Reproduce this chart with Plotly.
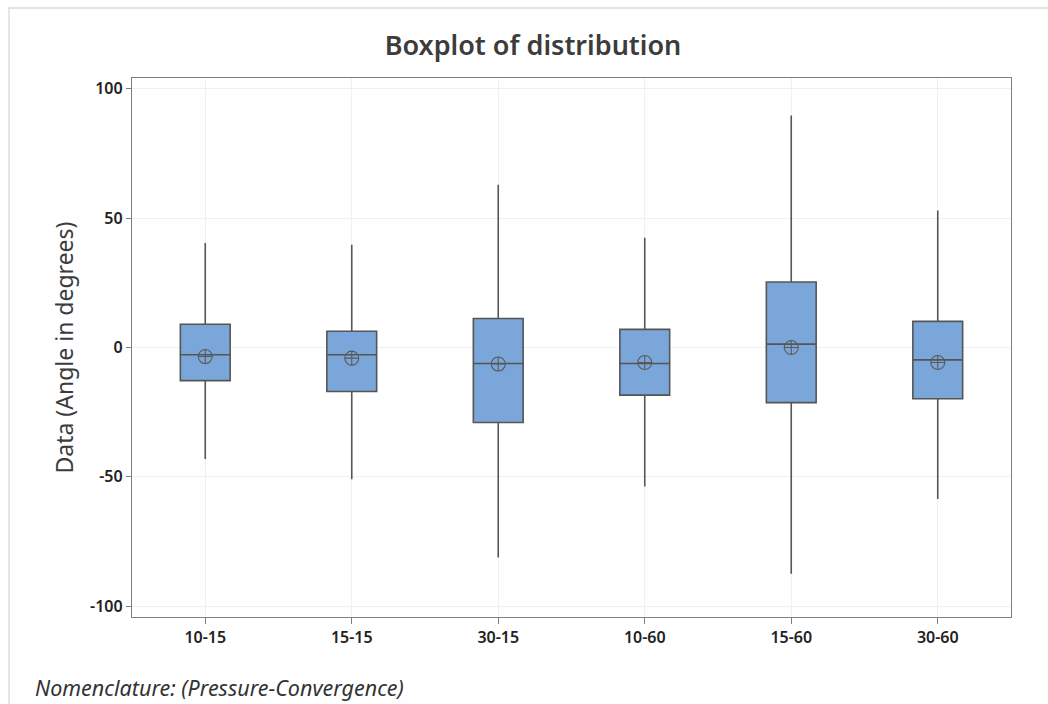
import plotly.graph_objects as go

categories = ["10-15", "15-15", "30-15", "10-60", "15-60", "30-60"]
upper_whisker = [40.4, 39.7, 62.9, 42.4, 89.7, 53.0]
q3_values = [9.0, 6.3, 11.2, 7.0, 25.3, 10.1]
median_values = [-2.8, -2.8, -6.2, -6.2, 1.3, -4.8]
mean_values = [-3.5, -4.1, -6.4, -5.8, 0.0, -5.8]
q1_values = [-12.8, -17.0, -29.0, -18.4, -21.3, -19.8]
lower_whisker = [-43.1, -50.9, -81.2, -53.7, -87.5, -58.6]
y_tick_values = [-100, -50, 0, 50, 100]
y_tick_labels = ["-100", "-50", "0", "50", "100"]

FONT = "Noto Sans"
L, R, T, B = 132, 37, 78, 87
W, H = 1048, 704
PW, PH = W - L - R, H - T - B

def px_x(x):
    return (x - L) / PW

def px_y(y):
    return (H - B - y) / PH

fig = go.Figure()
fig.add_trace(go.Box(
    x=categories,
    q1=q1_values, median=median_values, q3=q3_values,
    lowerfence=lower_whisker, upperfence=upper_whisker,
    fillcolor="#7BA6D9",
    line=dict(color="#555555", width=1.6),
    whiskerwidth=0,
    width=0.34,
    boxpoints=False,
    showlegend=False,
    hoverinfo="skip",
))
fig.add_trace(go.Scatter(
    x=categories, y=mean_values, mode="markers",
    marker=dict(symbol="circle-cross-open", size=14,
                color="#5a5a5a", line=dict(width=1.1, color="#5a5a5a")),
    showlegend=False, hoverinfo="skip",
))

fig.update_layout(
    width=W, height=H,
    margin=dict(l=L, r=R, t=T, b=B),
    paper_bgcolor="white", plot_bgcolor="white",
    font=dict(family=FONT, color="#333333"),
    title=dict(text="Boxplot of distribution", x=533 / W, xref="container",
               xanchor="center",
               y=1 - 46 / H, yref="container", yanchor="middle",
               font=dict(size=27, color="#3C3C3C", family=FONT, weight=600)),
    xaxis=dict(
        type="category", range=[-0.5, 5.5],
        showgrid=True, gridcolor="#F0F0F0", gridwidth=1,
        showline=True, linecolor="#7F7F7F", linewidth=1.3, mirror=True,
        ticks="outside", ticklen=6, tickcolor="#7F7F7F",
        tickfont=dict(size=16, color="#222222", family=FONT, weight=600),
        zeroline=False,
    ),
    yaxis=dict(
        range=[-104.2, 104.2],
        tickvals=y_tick_values, ticktext=y_tick_labels,
        showgrid=True, gridcolor="#F0F0F0", gridwidth=1,
        showline=True, linecolor="#7F7F7F", linewidth=1.3, mirror=True,
        ticks="outside", ticklen=5, tickcolor="#7F7F7F",
        tickfont=dict(size=16, color="#222222", family=FONT, weight=600),
        zeroline=False,
        title=dict(text="Data (Angle in degrees)", standoff=10,
                   font=dict(size=23, color="#3C3C3C", family=FONT)),
    ),
    annotations=[dict(
        text="<i>Nomenclature: (Pressure-Convergence)</i>",
        xref="paper", yref="paper", x=px_x(33), y=px_y(687),
        xanchor="left", yanchor="middle", showarrow=False,
        font=dict(size=21.5, color="#333333", family=FONT),
    )],
    shapes=[dict(
        type="rect", xref="paper", yref="paper",
        x0=px_x(9), x1=px_x(1070), y0=px_y(730), y1=px_y(8),
        line=dict(color="#D9D9D9", width=1.3), fillcolor="rgba(0,0,0,0)",
        layer="below",
    )],
)

fig.write_html("out.html")
